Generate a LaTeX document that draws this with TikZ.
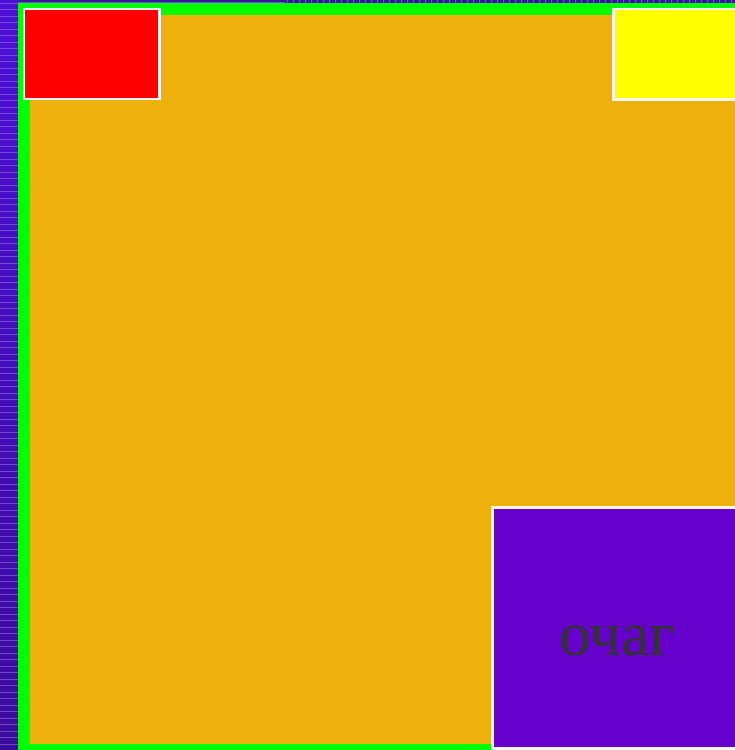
\documentclass[tikz,border=0pt]{standalone}
\usepackage{fontspec}
\setmainfont{Liberation Serif}
\usepackage{tikz}
\definecolor{wallgreen}{HTML}{00FF00}
\definecolor{floororange}{HTML}{EEB00C}
\definecolor{hearthviolet}{HTML}{6600CC}
\definecolor{storeyellow}{HTML}{FFFF00}
\definecolor{stripA}{HTML}{4C10D4}
\definecolor{stripB}{HTML}{5C12F4}
\definecolor{stripC}{HTML}{3A0C9C}
\definecolor{stripline}{HTML}{9A78F0}
\definecolor{topstrip}{HTML}{3A12A8}
\definecolor{labelgray}{HTML}{333333}
\tikzset{
  room/.style     = {draw=white!92!gray,line width=2.4pt},
  stripmark/.style = {stripline,line width=0.7pt},
  roomlabel/.style = {font=\fontsize{63}{63}\selectfont,text=labelgray,inner sep=0pt}
}

\begin{document}
\begin{tikzpicture}[x=1pt,y=-1pt]
  \useasboundingbox (0,0) rectangle (735,750);
  % outer strips
  \shade[top color=stripA,middle color=stripB,bottom color=stripC] (0,0) rectangle (18,750);
  \foreach \y in {3,9.5,...,748} {
    \draw[stripmark,opacity=0.55] (0,\y) -- (18,\y);
  }
  \fill[topstrip] (18,0) rectangle (735,3);
  \draw[stripmark,opacity=0.6] (18,2.2) -- (285,2.2);
  \foreach \x in {287,293,...,735} {
    \draw[stripmark,opacity=0.6,line width=0.6pt] (\x,0) -- (\x,3);
  }
  % walls and floor
  \fill[wallgreen] (18,3) rectangle (735,750);
  \fill[floororange] (30,15) rectangle (735,743.5);
  % rooms
  \draw[room,fill=red] (24,9) rectangle (159.5,99);
  \draw[room,fill=storeyellow] (613.5,9) rectangle (740,99.5);
  \draw[room,fill=hearthviolet] (492.5,507.5) rectangle (740,748.5);
  \node[roomlabel,anchor=base] (hearth) at (617.5,655) {очаг};
\end{tikzpicture}
\end{document}
